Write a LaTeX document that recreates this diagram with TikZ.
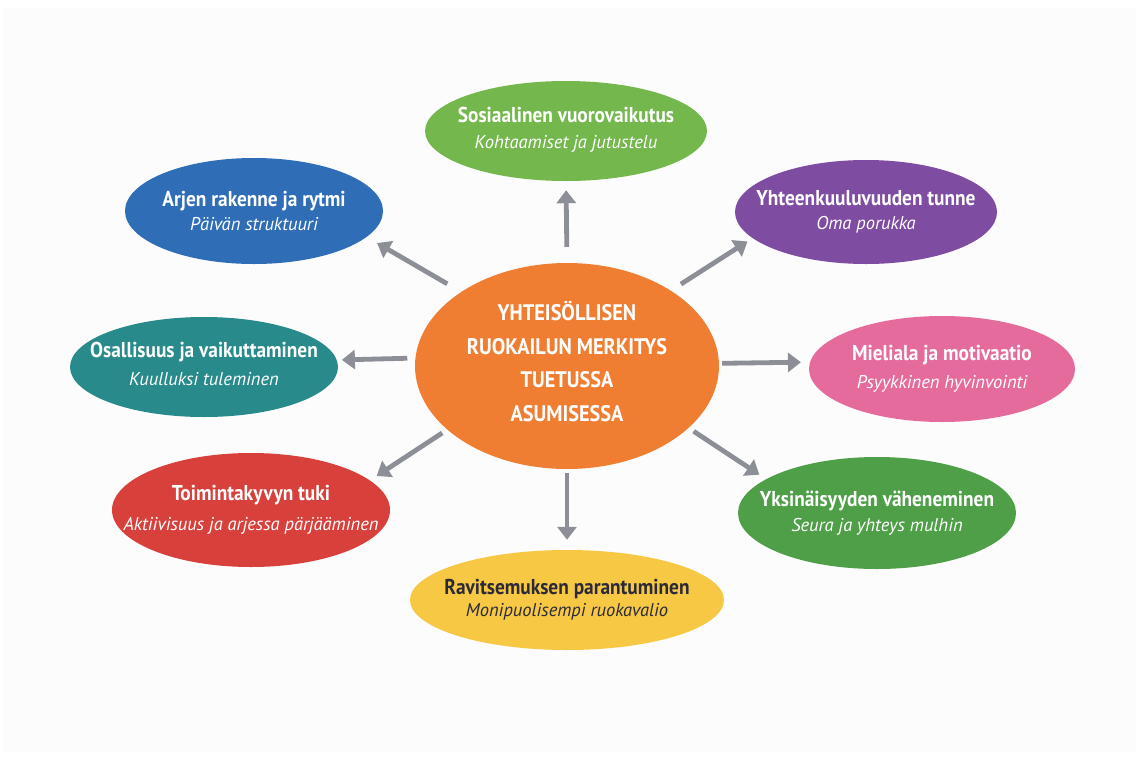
\documentclass[tikz,border=0pt]{standalone}
\usepackage{fontspec}
\setmainfont{PT Sans}
\newfontfamily\titlefont{PT Sans}[FakeStretch=0.9]
\usetikzlibrary{shapes.geometric,arrows.meta}

\definecolor{panelbg}{HTML}{FCFCFC}
\definecolor{corange}{HTML}{EF7E32}
\definecolor{clgreen}{HTML}{74B74D}
\definecolor{cblue}{HTML}{2F6EB6}
\definecolor{cpurple}{HTML}{7E4CA1}
\definecolor{cteal}{HTML}{288A8A}
\definecolor{cpink}{HTML}{E66B9D}
\definecolor{cred}{HTML}{D8403C}
\definecolor{cgreen}{HTML}{4E9F47}
\definecolor{cyellow}{HTML}{F6C843}
\definecolor{darktext}{HTML}{2C2A38}
\definecolor{arrowgray}{HTML}{8C9096}

\newcommand\bubtitle[1]{{\titlefont\fontsize{21.5}{24}\selectfont\bfseries #1}}
\newcommand\bubsub[1]{{\fontsize{18.5}{20}\selectfont\itshape #1}}

\begin{document}
\begin{tikzpicture}[x=1pt,y=-1pt,
  bubble/.style={ellipse, inner xsep=-80pt, inner ysep=-30pt, align=center, text=white},
  hub/.style={bubble, fill=corange, minimum width=304pt, minimum height=206pt,
    font=\titlefont\fontsize{22.5}{33.5}\selectfont\bfseries},
  arr/.style={draw=arrowgray, line width=4.8pt,
    -{Triangle[width=19pt,length=13pt]}}]

\useasboundingbox (0,0) rectangle (1136,758);
\fill[white] (0,0) rectangle (1136,758);
\fill[panelbg] (3,8) rectangle (1136,752);

% central topic (the strut lifts the block a little)
\node[hub] (c) at (567,366)
  {YHTEISÖLLISEN\\RUOKAILUN MERKITYS\\TUETUSSA\\ASUMISESSA\rule[-9pt]{0pt}{9pt}};

% surrounding effects
\node[bubble, fill=clgreen, minimum width=282pt, minimum height=100pt] (s) at (566,131)
  {\bubtitle{Sosiaalinen vuorovaikutus}\\[11pt]\bubsub{Kohtaamiset ja jutustelu}\rule[-6pt]{0pt}{6pt}};
\node[bubble, fill=cblue, minimum width=258pt, minimum height=106pt] (b) at (254,211)
  {\bubtitle{Arjen rakenne ja rytmi}\\[6pt]\bubsub{Päivän struktuuri}};
\node[bubble, fill=cpurple, minimum width=262pt, minimum height=104pt] (p) at (866,212)
  {\bubtitle{Yhteenkuuluvuuden tunne}\\[9pt]\bubsub{Oma porukka}};
\node[bubble, fill=cteal, minimum width=268pt, minimum height=100pt] (t) at (204,367)
  {\bubtitle{Osallisuus ja vaikuttaminen}\\[9pt]\bubsub{Kuulluksi tuleminen}\rule[-6pt]{0pt}{6pt}};
\node[bubble, fill=cpink, minimum width=266pt, minimum height=106pt] (m) at (942,369)
  {\bubtitle{Mieliala ja motivaatio}\\[9pt]\bubsub{Psyykkinen hyvinvointi}};
\node[bubble, fill=cred, minimum width=278pt, minimum height=114pt] (r) at (251,510)
  {\bubtitle{Toimintakyvyn tuki}\\[11pt]\bubsub{Aktiivisuus ja arjessa pärjääminen}};
\node[bubble, fill=cgreen, minimum width=278pt, minimum height=112pt] (g) at (877,513)
  {\bubtitle{Yksinäisyyden väheneminen}\\[7pt]\bubsub{Seura ja yhteys mulhin}};
\node[bubble, fill=cyellow, text=darktext, minimum width=314pt, minimum height=100pt] (y) at (567,600)
  {\bubtitle{Ravitsemuksen parantuminen}\\[4pt]\bubsub{Monipuolisempi ruokavalio}};

% arrows from the hub
\draw[arr, shorten <=16pt, shorten >=9pt]  (c.90)     -- (s.-90);
\draw[arr, shorten <=4pt,  shorten >=10pt] (c.-90)    -- (y.90);
\draw[arr, shorten <=8pt,  shorten >=5pt]  (c.177.4)  -- (t.3.3);
\draw[arr, shorten <=3pt,  shorten >=9pt]  (c.1.5)    -- (m.177.2);
\draw[arr, shorten <=16pt, shorten >=12pt] (c.145.1)  -- (b.-13.2);
\draw[arr, shorten <=12pt, shorten >=6pt]  (c.36.3)   -- (p.-167.7);
\draw[arr, shorten <=6pt,  shorten >=8pt]  (c.-152.2) -- (r.14.3);
\draw[arr, shorten <=6pt,  shorten >=8pt]  (c.-27.8)  -- (g.163.2);
\end{tikzpicture}
\end{document}
